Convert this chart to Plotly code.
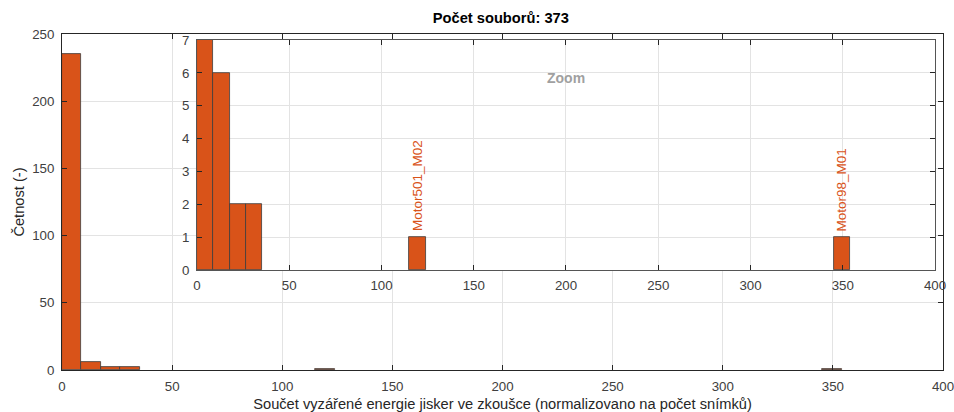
import plotly.graph_objects as go

# ---- data ----
bin_width = 8.85
bin_left = [0.0, 8.85, 17.7, 26.55, 115.05, 345.15]
counts = [235, 6, 2, 2, 1, 1]
x_ticks = [0, 50, 100, 150, 200, 250, 300, 350, 400]
y_ticks_main = [0, 50, 100, 150, 200, 250]
y_ticks_zoom = [0, 1, 2, 3, 4, 5, 6, 7]
outlier_names = ["Motor501_M02", "Motor98_M01"]
outlier_x = [119.475, 349.575]
outlier_y = [1, 1]
title_text = "Počet souborů: 373"
xlabel = "Součet vyzářené energie jisker ve zkoušce (normalizovano na počet snímků)"
ylabel = "Četnost (-)"

BAR = "#D95319"
EDGE = "#3c3c3c"
AX = "#262626"
GRID = "#e3e3e3"
FONT = "Liberation Sans, Arial, sans-serif"

fig = go.Figure()
for xa, ya in [("x", "y"), ("x2", "y2")]:
    fig.add_trace(go.Bar(
        x=bin_left, y=counts, width=bin_width, offset=0,
        marker=dict(color=BAR, line=dict(color=EDGE, width=0.8)),
        xaxis=xa, yaxis=ya, showlegend=False, hoverinfo="x+y"))

axis_common = dict(
    showline=True, linecolor=AX, linewidth=1, mirror="ticks",
    ticks="inside", ticklen=5, tickcolor=AX, tickwidth=1,
    showgrid=True, gridcolor=GRID, gridwidth=1, zeroline=False,
    automargin=False, ticklabeloverflow="allow",
    tickfont=dict(family=FONT, size=13.3, color="#404040"),
)

fig.update_layout(
    width=954, height=412,
    margin=dict(l=62, r=11, t=34, b=42),
    paper_bgcolor="white", plot_bgcolor="white",
    bargap=0,
    title=dict(text="<b>" + title_text + "</b>", x=0.525, xanchor="center",
               y=0.956, yanchor="middle",
               font=dict(family=FONT, size=14.67, color="black")),
    xaxis=dict(domain=[0, 1], range=[0, 400], tickvals=x_ticks, anchor="y",
               title=dict(text=xlabel, standoff=6,
                          font=dict(family=FONT, size=14.67, color=AX)),
               **axis_common),
    yaxis=dict(domain=[0, 1], range=[0, 250], tickvals=y_ticks_main, anchor="x",
               title=dict(text=ylabel, standoff=4,
                          font=dict(family=FONT, size=14.67, color=AX)),
               **axis_common),
    xaxis2=dict(domain=[0.1532, 0.9909], range=[0, 400], tickvals=x_ticks,
                anchor="y2", **axis_common),
    yaxis2=dict(domain=[0.2976, 0.982], range=[0, 7], tickvals=y_ticks_zoom,
                anchor="x2", **axis_common),
)
fig.update_yaxes(ticklabelstandoff=4)
fig.layout.xaxis.ticklabelstandoff = 4
fig.layout.xaxis2.ticklabelstandoff = 3
fig.layout.xaxis2.linecolor = "#555555"
fig.layout.yaxis2.linecolor = "#555555"

fig.add_annotation(text="<b>Zoom</b>", xref="x2 domain", yref="y2 domain",
                   x=0.5, y=0.88, showarrow=False,
                   font=dict(family=FONT, size=14, color="#a0a0a0"))

for name, xv, yv in zip(outlier_names, outlier_x, outlier_y):
    fig.add_annotation(text=name, xref="x2", yref="y2", x=xv, y=yv,
                       yanchor="bottom", xanchor="center", yshift=4,
                       textangle=-90, showarrow=False,
                       font=dict(family=FONT, size=13.5, color=BAR))

fig.write_html("out.html", config={"displayModeBar": False},
               post_script="document.body.style.margin='0';")
